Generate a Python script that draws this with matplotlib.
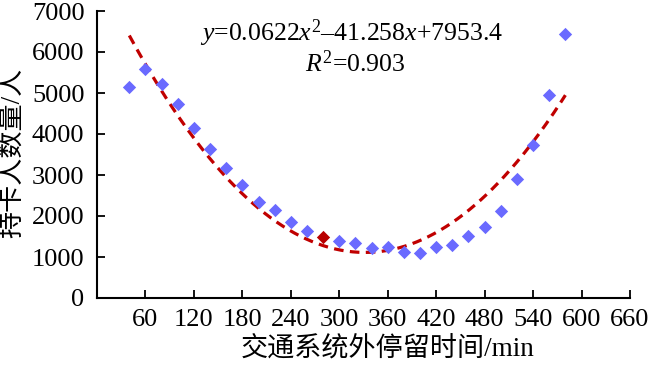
import matplotlib
matplotlib.use("Agg")
import matplotlib.pyplot as plt
import numpy as np

plt.rcParams['font.family'] = ['Liberation Serif', 'Noto Sans CJK SC']
plt.rcParams['mathtext.fontset'] = 'custom'
plt.rcParams['mathtext.rm'] = 'Liberation Serif'
plt.rcParams['mathtext.it'] = 'Liberation Serif:italic'

stay_minutes = [40, 60, 80, 100, 120, 140, 160, 180, 200, 220, 240, 260, 280, 300,
                320, 340, 360, 380, 400, 420, 440, 460, 480, 500, 520, 540, 560, 580]
card_holders = [5150, 5580, 5220, 4720, 4150, 3640, 3170, 2760, 2340, 2140, 1860, 1630,
                1480, 1390, 1350, 1210, 1245, 1120, 1100, 1245, 1300, 1510, 1730, 2120,
                2900, 3730, 4950, 6450]
highlight_x = [280]
fit_coeffs = [0.0622, -41.258, 7953.4]
x_ticks = [60, 120, 180, 240, 300, 360, 420, 480, 540, 600, 660]
y_ticks = [0, 1000, 2000, 3000, 4000, 5000, 6000, 7000]

fig = plt.figure(figsize=(6.5, 3.65), dpi=100)
ax = fig.add_axes([97/650, 1-298/365, (630-97)/650, (298-11)/365])

xs = np.array(stay_minutes)
ys = np.array(card_holders)
mask = np.isin(xs, highlight_x)
ax.scatter(xs[~mask], ys[~mask], marker='D', s=46, color='#6A6AFF', zorder=3, linewidths=0)
ax.scatter(xs[mask], ys[mask], marker='D', s=46, color='#B80000', zorder=3, linewidths=0)

xf = np.linspace(min(stay_minutes), max(stay_minutes), 300)
ax.plot(xf, np.polyval(fit_coeffs, xf), color='#C00000', lw=2.3, ls=(0, (3, 2)), zorder=2)

ax.set_xlim(0, 660)
ax.set_ylim(0, 7000)
ax.set_xticks(x_ticks)
ax.set_yticks(y_ticks)
ax.tick_params(direction='in', length=6, width=1.3, labelsize=19, colors='black')
ax.tick_params(axis='y', pad=9)
ax.tick_params(axis='x', pad=8)
for s in ['top', 'right']:
    ax.spines[s].set_visible(False)
for s in ['left', 'bottom']:
    ax.spines[s].set_linewidth(1.5)

ax.text(352/650, 1-33/365, r'$y$=0.0622$x^{2}$–41.258$x$+7953.4', transform=fig.transFigure,
        ha='center', va='center', fontsize=18.5)
ax.text(355/650, 1-64/365, r'$R^{2}$=0.903', transform=fig.transFigure,
        ha='center', va='center', fontsize=18.5)

fig.text(388/650, 1-350/365, '交通系统外停留时间/min', ha='center', va='center', fontsize=19.5)
fig.text(13/650, 1-153/365, '持卡人数量/人', ha='center', va='center', fontsize=19.5, rotation=90)

fig.savefig('out.png', dpi=100)
